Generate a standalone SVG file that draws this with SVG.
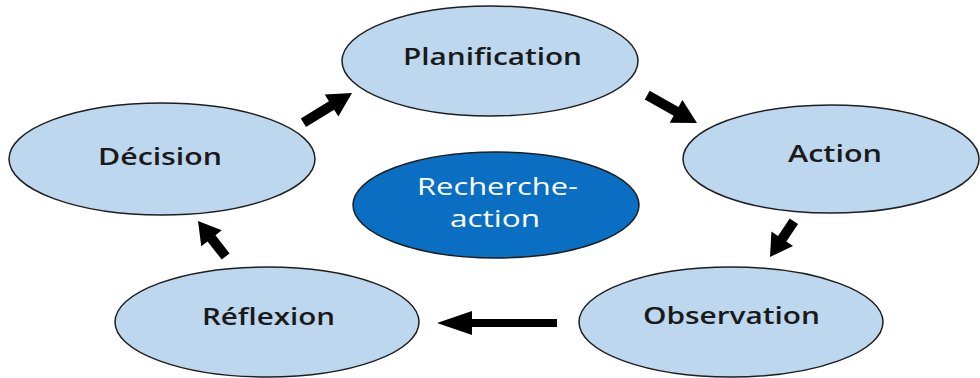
<svg xmlns="http://www.w3.org/2000/svg" width="980" height="378" viewBox="0 0 980 378">
<defs>
<style>
.node ellipse{fill:#bdd7ee;stroke:#1e1e1e;stroke-width:1.5}
.center ellipse{fill:#0a6fc2;stroke:#1e1e1e;stroke-width:1.5}
.lbl{font-family:"Open Sans","Liberation Sans",sans-serif;font-size:24px;font-weight:600;fill:#1a1a1a}
.clbl{font-family:"Open Sans","Liberation Sans",sans-serif;font-size:24px;font-weight:400;fill:#ffffff}
.arrow{fill:#000}
</style>
</defs>
<rect width="980" height="378" fill="#ffffff"/>
<g id="planification" class="node">
<ellipse cx="490" cy="61" rx="148" ry="55"/>
<text class="lbl" x="403" y="65" textLength="179" lengthAdjust="spacingAndGlyphs">Planification</text>
</g>
<g id="action" class="node">
<ellipse cx="831" cy="159" rx="148" ry="54"/>
<text class="lbl" x="788" y="162" textLength="94" lengthAdjust="spacingAndGlyphs">Action</text>
</g>
<g id="observation" class="node">
<ellipse cx="731" cy="322" rx="152" ry="55"/>
<text class="lbl" x="643" y="324" textLength="177" lengthAdjust="spacingAndGlyphs">Observation</text>
</g>
<g id="reflexion" class="node">
<ellipse cx="267" cy="322" rx="152" ry="55"/>
<text class="lbl" x="202" y="325" textLength="133" lengthAdjust="spacingAndGlyphs">Réflexion</text>
</g>
<g id="decision" class="node">
<ellipse cx="162" cy="159" rx="153" ry="56"/>
<text class="lbl" x="98" y="165" textLength="124" lengthAdjust="spacingAndGlyphs">Décision</text>
</g>
<g id="recherche-action" class="center">
<ellipse cx="496" cy="205" rx="143" ry="53"/>
<text class="clbl" x="417" y="195" textLength="161" lengthAdjust="spacingAndGlyphs">Recherche-</text>
<text class="clbl" x="450" y="227" textLength="90" lengthAdjust="spacingAndGlyphs">action</text>
</g>
<g id="connectors" class="arrow">
<polygon transform="translate(352,93) rotate(-31.5)" points="-57,-5 -24,-5 -24,-13 0,0 -24,13 -24,5 -57,5"/>
<polygon transform="translate(697,123) rotate(29.2)" points="-57,-5 -24,-5 -24,-13 0,0 -24,13 -24,5 -57,5"/>
<polygon transform="translate(770,257) rotate(123.7)" points="-43,-5 -22,-5 -22,-13 0,0 -22,13 -22,5 -43,5"/>
<polygon transform="translate(437,323) rotate(180)" points="-120,-4 -35,-4 -35,-12 0,0 -35,12 -35,4 -120,4"/>
<polygon transform="translate(198,221) rotate(-127.9)" points="-45,-5 -22,-5 -22,-13 0,0 -22,13 -22,5 -45,5"/>
</g>
</svg>
